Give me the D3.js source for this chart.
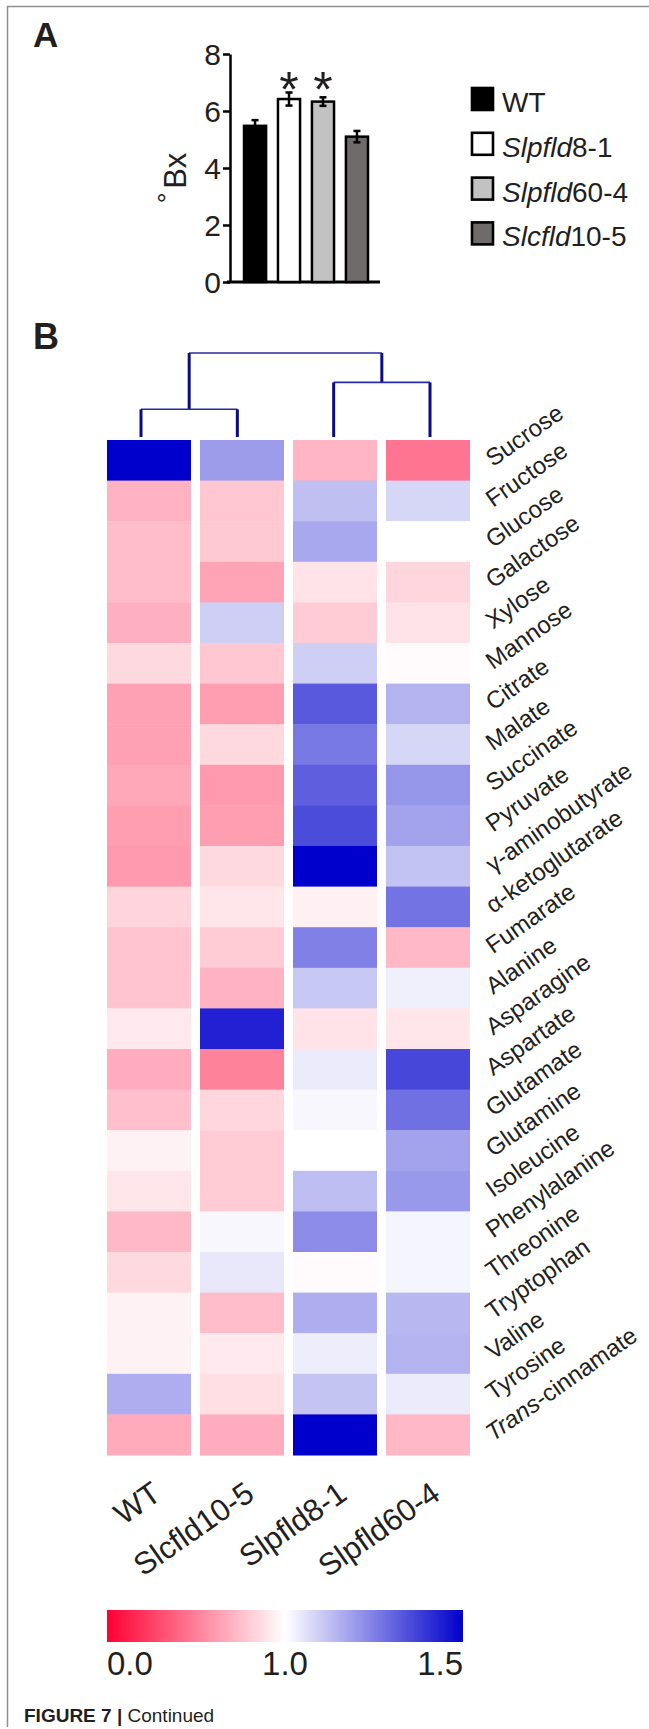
<!DOCTYPE html>
<html><head><meta charset="utf-8">
<script src="https://cdn.jsdelivr.net/npm/d3@7"></script>
<style>
body{margin:0;background:#fff}
svg{display:block}
text{font-family:"Liberation Sans",Arial,Helvetica,sans-serif;fill:#231f20}
</style>
</head><body>
<svg id="fig" width="649" height="1729"></svg>
<script>
// ---------------- Panel A data ----------------
const barGroups = ["WT", "Slpfld8-1", "Slpfld60-4", "Slcfld10-5"];
const barValues = [5.48, 6.42, 6.33, 5.10];
const barErrors = [0.20, 0.23, 0.15, 0.20];
const barSignificant = [false, true, true, false];
const barYTicks = [0, 2, 4, 6, 8];
const barYLabel = "Bx";

// ---------------- Panel B data ----------------
const metabolites = ["Sucrose","Fructose","Glucose","Galactose","Xylose","Mannose","Citrate","Malate",
  "Succinate","Pyruvate","γ-aminobutyrate","α-ketoglutarate","Fumarate","Alanine","Asparagine","Aspartate",
  "Glutamate","Glutamine","Isoleucine","Phenylalanine","Threonine","Tryptophan","Valine","Tyrosine","Trans-cinnamate"];
const genotypes = ["WT", "Slcfld10-5", "Slpfld8-1", "Slpfld60-4"];
const wtValues        = [1.50,0.70,0.74,0.74,0.69,0.85,0.63,0.63,0.66,0.62,0.60,0.83,0.77,0.77,0.915,0.68,0.75,0.95,0.90,0.72,0.85,0.95,0.95,1.16,0.67];
const slcfld105Values = [1.195,0.78,0.79,0.64,1.095,0.78,0.62,0.85,0.60,0.62,0.85,0.90,0.80,0.70,1.435,0.51,0.84,0.80,0.80,1.015,1.045,0.74,0.915,0.87,0.68];
const slpfld81Values  = [0.71,1.125,1.17,0.89,0.80,1.095,1.325,1.265,1.315,1.35,1.50,0.94,1.25,1.11,0.89,1.04,1.015,1.00,1.13,1.225,0.98,1.16,1.035,1.115,1.50];
const slpfld604Values = [0.46,1.08,1.00,0.84,0.89,0.98,1.15,1.08,1.205,1.18,1.12,1.275,0.72,1.03,0.90,1.36,1.28,1.18,1.20,1.02,1.02,1.14,1.15,1.04,0.72];
const heatSeries = [wtValues, slcfld105Values, slpfld81Values, slpfld604Values];
const clusterTree = {height: 1.0, children: [
  {height: 0.33, children: [{name: "WT"}, {name: "Slcfld10-5"}]},
  {height: 0.65, children: [{name: "Slpfld8-1"}, {name: "Slpfld60-4"}]}
]};
const colorbarTicks = [0.0, 1.0, 1.5];
const captionBold = "FIGURE 7 | ";
const captionText = "Continued";

// ---------------- styles ----------------
const barFills = ["#000000", "#ffffff", "#c2c2c2", "#706b6b"];
const FONT = '"Liberation Sans",Arial,sans-serif';
const svg = d3.select("#fig");

// frame
svg.append("path").attr("d", "M7.5,1727 V6.5 H649").attr("fill", "none").attr("stroke", "#8f8f8f").attr("stroke-width", 1.5);

// panel letters
svg.append("text").attr("x", 33).attr("y", 47).attr("font-size", 35).attr("font-weight", "bold").text("A");
svg.append("text").attr("x", 33).attr("y", 349).attr("font-size", 36).attr("font-weight", "bold").text("B");

// ---------------- Panel A ----------------
const y = d3.scaleLinear().domain([0, 8]).range([282, 54]);
const x = d3.scaleBand().domain(barGroups).range([244, 368]).paddingInner(0.35).paddingOuter(0);

const yAxis = svg.append("g").attr("transform", "translate(230,0)")
  .call(d3.axisLeft(y).tickValues(barYTicks).tickSize(7).tickSizeOuter(0).tickPadding(2));
yAxis.select(".domain").attr("stroke", "#000").attr("stroke-width", 2.5);
yAxis.selectAll(".tick line").attr("stroke", "#000").attr("stroke-width", 2.5);
yAxis.selectAll(".tick text").attr("font-size", 30).attr("font-family", FONT).attr("fill", "#231f20").attr("dy", "0.36em");

const xAxis = svg.append("g").attr("transform", `translate(0,${y(0)})`)
  .call(d3.axisBottom(x).tickSize(0).tickFormat(""));
xAxis.select(".domain").attr("d", `M${x.range()[0] - 17},0H${x.range()[1] + 12}`).attr("stroke", "#000").attr("stroke-width", 3);

const bars = barGroups.map((g, i) => ({g, v: barValues[i], e: barErrors[i], s: barSignificant[i], fill: barFills[i]}));
svg.append("g").selectAll("rect").data(bars).join("rect")
  .attr("x", d => x(d.g)).attr("y", d => y(d.v))
  .attr("width", x.bandwidth()).attr("height", d => y(0) - y(d.v))
  .attr("fill", d => d.fill).attr("stroke", "#000").attr("stroke-width", 2.5);

const eb = svg.append("g").attr("stroke", "#000").attr("stroke-width", 2.5);
bars.forEach(d => {
  const cx = x(d.g) + x.bandwidth() / 2;
  eb.append("line").attr("x1", cx).attr("x2", cx).attr("y1", y(d.v + d.e)).attr("y2", y(d.v - d.e));
  eb.append("line").attr("x1", cx - 3.5).attr("x2", cx + 3.5).attr("y1", y(d.v + d.e)).attr("y2", y(d.v + d.e));
  eb.append("line").attr("x1", cx - 3.5).attr("x2", cx + 3.5).attr("y1", y(d.v - d.e)).attr("y2", y(d.v - d.e));
});
const starY = y(d3.max(bars, d => d.v + d.e)) + 15;
svg.append("g").selectAll("text").data(bars.filter(d => d.s)).join("text")
  .attr("x", d => x(d.g) + x.bandwidth() / 2).attr("y", starY)
  .attr("text-anchor", "middle").attr("font-size", 50).text("*");

const yl = svg.append("text").attr("text-anchor", "middle")
  .attr("transform", `translate(185,${(y(0) + y(8)) / 2 + 10}) rotate(-90)`).attr("font-size", 31);
yl.append("tspan").attr("font-size", 27).attr("dy", "-0.3em").text("°");
yl.append("tspan").attr("dx", "0.12em").attr("dy", "0.3em").text(barYLabel);

// legend
const legY = d3.scaleBand().domain(barGroups).range([87, 87 + 44.8 * 4]).paddingInner(0);
const leg = svg.append("g").selectAll("g").data(bars).join("g")
  .attr("transform", d => `translate(471,${legY(d.g)})`);
leg.append("rect").attr("x", 1).attr("y", 1).attr("width", 21).attr("height", 22)
  .attr("fill", d => d.fill).attr("stroke", "#000").attr("stroke-width", 2.6);
function geneText(sel, name, italicGene) {
  const m = name.match(/^(Sl[cp]fld)(.*)$/);
  if (m) {
    sel.append("tspan").attr("font-style", italicGene ? "italic" : "normal").text(m[1]);
    sel.append("tspan").text(m[2]);
  } else sel.text(name);
}
leg.append("text").attr("x", 31).attr("y", 25).attr("font-size", 28)
  .each(function(d) { geneText(d3.select(this), d.g, true); });

// ---------------- Panel B ----------------
const hx = d3.scaleBand().domain(genotypes).range([107, 470]).paddingInner(0.0968).paddingOuter(0);
const hy = d3.scaleBand().domain(metabolites).range([440, 1455]);
const color = d3.scaleLinear().domain([0, 1, 1.5]).range(["#ff0033", "#ffffff", "#0000cc"]);

const cells = [];
genotypes.forEach((g, j) => metabolites.forEach((m, i) => cells.push({g, m, v: heatSeries[j][i]})));
svg.append("g").selectAll("rect").data(cells).join("rect")
  .attr("x", d => hx(d.g)).attr("y", d => hy(d.m))
  .attr("width", hx.bandwidth()).attr("height", hy.bandwidth() + 0.5)
  .attr("fill", d => color(d.v));

// dendrogram
const leafX = d3.scalePoint().domain(genotypes).range([141, 430]);
const hgt = d3.scaleLinear().domain([0, 1]).range([437, 353]);
const root = d3.hierarchy(clusterTree);
root.eachAfter(n => {
  n.px = n.children ? d3.mean(n.children, c => c.px) : leafX(n.data.name);
  n.h = n.data.height || 0;
});
const dg = svg.append("g").attr("fill", "none");
root.each(n => {
  if (!n.children) return;
  const [a, b] = n.children;
  dg.append("line").attr("x1", a.px).attr("x2", b.px).attr("y1", hgt(n.h)).attr("y2", hgt(n.h))
    .attr("stroke", "#2a2aa0").attr("stroke-width", 1.6);
  n.children.forEach(c => {
    dg.append("line").attr("x1", c.px).attr("x2", c.px).attr("y1", hgt(n.h)).attr("y2", hgt(c.h))
      .attr("stroke", "#0b0b85").attr("stroke-width", 3);
  });
});

// row labels
svg.append("g").selectAll("text").data(metabolites).join("text")
  .attr("transform", d => `translate(493,${hy(d) + hy.bandwidth() / 2 + 7}) rotate(-35)`)
  .attr("font-size", 24)
  .each(function(d) {
    const s = d3.select(this);
    const m = d.match(/^(Trans)(-.*)$/);
    if (m) { s.append("tspan").attr("font-style", "italic").text(m[1]); s.append("tspan").text(m[2]); }
    else s.text(d);
  });

// column labels
svg.append("g").selectAll("text").data(genotypes).join("text")
  .attr("transform", d => `translate(${hx(d) + hx.bandwidth() / 2 + 14},1498) rotate(-35)`)
  .attr("text-anchor", "end").attr("font-size", 31)
  .each(function(d) { geneText(d3.select(this), d, false); });

// colorbar
const cbX = d3.scaleLinear().domain([0, 1, 1.5]).range([107, 285, 463]);
const grad = svg.append("defs").append("linearGradient").attr("id", "cb").attr("x1", "0").attr("x2", "1").attr("y1", "0").attr("y2", "0");
grad.selectAll("stop").data(colorbarTicks).join("stop")
  .attr("offset", d => (cbX(d) - cbX.range()[0]) / (cbX.range()[2] - cbX.range()[0]))
  .attr("stop-color", d => color(d));
svg.append("rect").attr("x", cbX(0)).attr("y", 1610).attr("width", cbX(1.5) - cbX(0)).attr("height", 32)
  .attr("fill", "url(#cb)");
svg.append("g").selectAll("text").data(colorbarTicks).join("text")
  .attr("x", d => cbX(d)).attr("y", 1675)
  .attr("text-anchor", (d, i) => i === 0 ? "start" : (i === colorbarTicks.length - 1 ? "end" : "middle"))
  .attr("font-size", 33).text(d3.format(".1f"));

// caption
const cap = svg.append("text").attr("x", 24).attr("y", 1722).attr("font-size", 19);
cap.append("tspan").attr("font-weight", "bold").text(captionBold);
cap.append("tspan").text(captionText);
</script>
</body></html>
